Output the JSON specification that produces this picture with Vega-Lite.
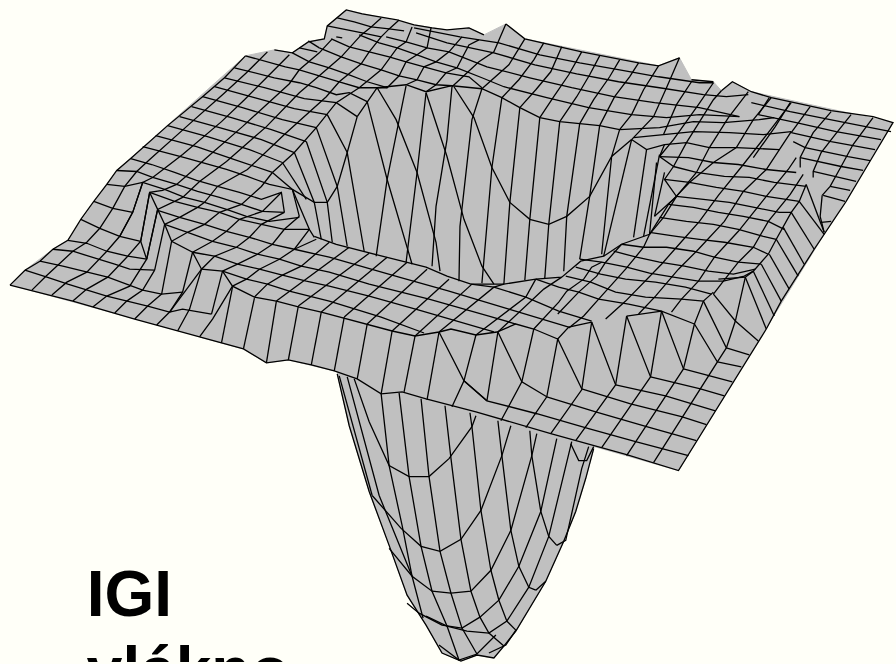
{"$schema":"https://vega.github.io/schema/vega-lite/v6.json","width":896,"height":664,"padding":0,"autosize":{"type":"fit","contains":"padding"},"background":"#FFFFF8","config":{"view":{"stroke":null}},
"datasets":{"fills":[
{"l":1,"x":338,"y":375},{"l":1,"x":350,"y":427},{"l":1,"x":370,"y":493},{"l":1,"x":390,"y":547},{"l":1,"x":408,"y":597},{"l":1,"x":427,"y":627},{"l":1,"x":443,"y":655},{"l":1,"x":462,"y":663},{"l":1,"x":478,"y":657},{"l":1,"x":495,"y":660},{"l":1,"x":505,"y":648},{"l":1,"x":517,"y":633},{"l":1,"x":547,"y":583},{"l":1,"x":565,"y":543},{"l":1,"x":577,"y":513},{"l":1,"x":587,"y":480},{"l":1,"x":595,"y":450},{"l":1,"x":595,"y":420},{"l":1,"x":338,"y":350},
{"l":2,"x":10,"y":286},{"l":2,"x":25,"y":271},{"l":2,"x":53,"y":250},{"l":2,"x":68,"y":241},{"l":2,"x":117,"y":171},{"l":2,"x":246,"y":56},{"l":2,"x":275,"y":50},{"l":2,"x":293,"y":53},{"l":2,"x":309,"y":42},{"l":2,"x":325,"y":39},{"l":2,"x":328,"y":26},{"l":2,"x":347,"y":10},{"l":2,"x":415,"y":25},{"l":2,"x":448,"y":30},{"l":2,"x":470,"y":28},{"l":2,"x":485,"y":35},{"l":2,"x":507,"y":24},{"l":2,"x":526,"y":39},{"l":2,"x":660,"y":66},{"l":2,"x":681,"y":58},{"l":2,"x":693,"y":80},{"l":2,"x":715,"y":82},{"l":2,"x":723,"y":91},{"l":2,"x":734,"y":82},{"l":2,"x":753,"y":92},{"l":2,"x":895,"y":123},{"l":2,"x":680,"y":472},{"l":2,"x":427,"y":400},{"l":2,"x":403,"y":393},{"l":2,"x":382,"y":395},{"l":2,"x":358,"y":380},{"l":2,"x":335,"y":372},{"l":2,"x":289,"y":361},{"l":2,"x":267,"y":364},{"l":2,"x":244,"y":350},{"l":2,"x":200,"y":338}],
"lines":[
{"l":1,"x":338,"y":375},{"l":1,"x":350,"y":427},{"l":1,"x":370,"y":493},{"l":1,"x":390,"y":547},{"l":1,"x":408,"y":597},{"l":1,"x":427,"y":627},{"l":1,"x":443,"y":655},{"l":1,"x":462,"y":663},{"l":1,"x":478,"y":657},{"l":1,"x":495,"y":660},{"l":1,"x":505,"y":648},{"l":1,"x":517,"y":633},{"l":1,"x":547,"y":583},{"l":1,"x":565,"y":543},{"l":1,"x":577,"y":513},{"l":1,"x":587,"y":480},{"l":1,"x":595,"y":450},
{"l":2,"x":382,"y":395},{"l":2,"x":390,"y":467},{"l":2,"x":403,"y":527},{"l":2,"x":413,"y":578},{"l":2,"x":424,"y":620},
{"l":3,"x":400,"y":394},{"l":3,"x":410,"y":478},{"l":3,"x":422,"y":548},{"l":3,"x":433,"y":593},{"l":3,"x":448,"y":628},{"l":3,"x":460,"y":662},
{"l":4,"x":422,"y":400},{"l":4,"x":430,"y":478},{"l":4,"x":441,"y":553},{"l":4,"x":452,"y":595},{"l":4,"x":463,"y":630},{"l":4,"x":478,"y":656},
{"l":5,"x":446,"y":407},{"l":5,"x":452,"y":460},{"l":5,"x":462,"y":541},{"l":5,"x":472,"y":593},{"l":5,"x":481,"y":619},{"l":5,"x":490,"y":635},{"l":5,"x":505,"y":648},
{"l":6,"x":471,"y":414},{"l":6,"x":473,"y":428},{"l":6,"x":482,"y":512},{"l":6,"x":492,"y":572},{"l":6,"x":500,"y":602},{"l":6,"x":508,"y":623},{"l":6,"x":517,"y":632},
{"l":7,"x":499,"y":422},{"l":7,"x":503,"y":457},{"l":7,"x":512,"y":532},{"l":7,"x":520,"y":568},{"l":7,"x":530,"y":589},{"l":7,"x":537,"y":592},
{"l":8,"x":531,"y":432},{"l":8,"x":533,"y":457},{"l":8,"x":542,"y":513},{"l":8,"x":550,"y":538},{"l":8,"x":558,"y":547},
{"l":9,"x":340,"y":377},{"l":9,"x":373,"y":497},
{"l":10,"x":348,"y":378},{"l":10,"x":380,"y":497},{"l":10,"x":413,"y":578},
{"l":11,"x":355,"y":380},{"l":11,"x":370,"y":423},{"l":11,"x":390,"y":467},{"l":11,"x":410,"y":478},{"l":11,"x":430,"y":478},{"l":11,"x":450,"y":460},{"l":11,"x":473,"y":428},{"l":11,"x":477,"y":417},
{"l":12,"x":373,"y":497},{"l":12,"x":402,"y":530},{"l":12,"x":422,"y":548},{"l":12,"x":441,"y":553},{"l":12,"x":462,"y":541},{"l":12,"x":482,"y":512},{"l":12,"x":503,"y":457},{"l":12,"x":512,"y":427},
{"l":13,"x":390,"y":550},{"l":13,"x":413,"y":578},{"l":13,"x":433,"y":593},{"l":13,"x":452,"y":595},{"l":13,"x":472,"y":593},{"l":13,"x":492,"y":572},{"l":13,"x":512,"y":532},{"l":13,"x":533,"y":457},{"l":13,"x":538,"y":435},
{"l":14,"x":408,"y":605},{"l":14,"x":420,"y":615},{"l":14,"x":443,"y":627},{"l":14,"x":463,"y":630},{"l":14,"x":481,"y":619},{"l":14,"x":500,"y":602},{"l":14,"x":520,"y":568},{"l":14,"x":542,"y":513},{"l":14,"x":558,"y":440},
{"l":15,"x":427,"y":618},{"l":15,"x":448,"y":628},{"l":15,"x":468,"y":633},{"l":15,"x":490,"y":635},{"l":15,"x":508,"y":623},{"l":15,"x":530,"y":589},{"l":15,"x":550,"y":538},{"l":15,"x":573,"y":443},
{"l":16,"x":440,"y":647},{"l":16,"x":460,"y":662},{"l":16,"x":478,"y":656},{"l":16,"x":497,"y":637},
{"l":17,"x":490,"y":655},{"l":17,"x":507,"y":647},{"l":17,"x":517,"y":632},
{"l":18,"x":572,"y":445},{"l":18,"x":580,"y":462},{"l":18,"x":588,"y":462},{"l":18,"x":595,"y":448},
{"l":19,"x":558,"y":547},{"l":19,"x":567,"y":542},{"l":19,"x":583,"y":470},{"l":19,"x":590,"y":448},
{"l":20,"x":537,"y":592},{"l":20,"x":547,"y":583},
{"l":21,"x":10,"y":286},{"l":21,"x":25,"y":271},{"l":21,"x":40,"y":262},{"l":21,"x":53,"y":250},{"l":21,"x":68,"y":241},{"l":21,"x":81,"y":220},{"l":21,"x":94,"y":202},{"l":21,"x":107,"y":185},{"l":21,"x":117,"y":171},{"l":21,"x":131,"y":159},{"l":21,"x":168,"y":126},{"l":21,"x":203,"y":97},{"l":21,"x":225,"y":78},{"l":21,"x":246,"y":56},
{"l":22,"x":275,"y":50},{"l":22,"x":293,"y":53},{"l":22,"x":309,"y":42},{"l":22,"x":325,"y":39},{"l":22,"x":328,"y":26},{"l":22,"x":347,"y":10},{"l":22,"x":363,"y":14},{"l":22,"x":398,"y":20},{"l":22,"x":415,"y":25},{"l":22,"x":433,"y":28},{"l":22,"x":448,"y":30},{"l":22,"x":470,"y":28},{"l":22,"x":485,"y":35},
{"l":23,"x":507,"y":24},{"l":23,"x":526,"y":39},{"l":23,"x":583,"y":52},{"l":23,"x":640,"y":63},{"l":23,"x":660,"y":66},{"l":23,"x":681,"y":58},
{"l":24,"x":693,"y":80},{"l":24,"x":715,"y":82},
{"l":25,"x":723,"y":91},{"l":25,"x":734,"y":82},{"l":25,"x":753,"y":92},{"l":25,"x":773,"y":98},{"l":25,"x":833,"y":111},{"l":25,"x":875,"y":117},{"l":25,"x":895,"y":123},{"l":25,"x":873,"y":160},{"l":25,"x":848,"y":202},{"l":25,"x":816,"y":250},{"l":25,"x":783,"y":302},{"l":25,"x":768,"y":330},{"l":25,"x":680,"y":472},{"l":25,"x":628,"y":456},{"l":25,"x":552,"y":435},{"l":25,"x":477,"y":413},{"l":25,"x":427,"y":400},{"l":25,"x":403,"y":393},{"l":25,"x":382,"y":395},{"l":25,"x":358,"y":380},{"l":25,"x":335,"y":372},{"l":25,"x":312,"y":366},{"l":25,"x":289,"y":361},{"l":25,"x":267,"y":364},{"l":25,"x":244,"y":350},{"l":25,"x":200,"y":338},{"l":25,"x":135,"y":320},{"l":25,"x":73,"y":302},{"l":25,"x":10,"y":286},
{"l":30,"x":25,"y":271},{"l":30,"x":47,"y":278},{"l":30,"x":68,"y":285},{"l":30,"x":107,"y":297},{"l":30,"x":148,"y":307},{"l":30,"x":170,"y":313},{"l":30,"x":183,"y":310},{"l":30,"x":212,"y":315},
{"l":31,"x":40,"y":262},{"l":31,"x":63,"y":267},{"l":31,"x":108,"y":278},{"l":31,"x":143,"y":291},{"l":31,"x":162,"y":295},{"l":31,"x":183,"y":293},
{"l":32,"x":53,"y":250},{"l":32,"x":73,"y":252},{"l":32,"x":115,"y":265},{"l":32,"x":130,"y":270},{"l":32,"x":155,"y":271},
{"l":33,"x":68,"y":241},{"l":33,"x":87,"y":244},{"l":33,"x":107,"y":252},{"l":33,"x":128,"y":257},{"l":33,"x":147,"y":260},
{"l":34,"x":81,"y":220},{"l":34,"x":100,"y":229},{"l":34,"x":120,"y":237},{"l":34,"x":141,"y":242},
{"l":35,"x":94,"y":202},{"l":35,"x":113,"y":209},{"l":35,"x":133,"y":213},
{"l":36,"x":107,"y":185},{"l":36,"x":125,"y":187},{"l":36,"x":143,"y":183},{"l":36,"x":165,"y":190},{"l":36,"x":185,"y":198},{"l":36,"x":205,"y":203},{"l":36,"x":227,"y":210},{"l":36,"x":247,"y":217},{"l":36,"x":270,"y":222},{"l":36,"x":300,"y":218},
{"l":37,"x":117,"y":171},{"l":37,"x":137,"y":172},{"l":37,"x":153,"y":178},{"l":37,"x":177,"y":185},{"l":37,"x":198,"y":192},{"l":37,"x":220,"y":198},{"l":37,"x":242,"y":205},{"l":37,"x":263,"y":212},{"l":37,"x":285,"y":213},
{"l":38,"x":150,"y":193},{"l":38,"x":175,"y":202},{"l":38,"x":198,"y":208},{"l":38,"x":220,"y":213},{"l":38,"x":240,"y":220},{"l":38,"x":262,"y":225},{"l":38,"x":285,"y":230},{"l":38,"x":310,"y":230},{"l":38,"x":315,"y":238},
{"l":39,"x":143,"y":183},{"l":39,"x":133,"y":213},{"l":39,"x":120,"y":237},
{"l":40,"x":150,"y":193},{"l":40,"x":141,"y":242},{"l":40,"x":147,"y":260},
{"l":41,"x":158,"y":210},{"l":41,"x":147,"y":260},
{"l":42,"x":165,"y":225},{"l":42,"x":155,"y":271},
{"l":43,"x":172,"y":242},{"l":43,"x":162,"y":295},
{"l":44,"x":193,"y":253},{"l":44,"x":183,"y":293},
{"l":45,"x":202,"y":270},{"l":45,"x":170,"y":313},
{"l":46,"x":223,"y":272},{"l":46,"x":212,"y":315},
{"l":47,"x":233,"y":287},{"l":47,"x":213,"y":320},{"l":47,"x":200,"y":338},
{"l":48,"x":150,"y":193},{"l":48,"x":158,"y":210},{"l":48,"x":165,"y":225},{"l":48,"x":172,"y":242},{"l":48,"x":193,"y":253},{"l":48,"x":202,"y":270},{"l":48,"x":223,"y":272},{"l":48,"x":233,"y":287},{"l":48,"x":255,"y":298},{"l":48,"x":277,"y":302},{"l":48,"x":300,"y":308},{"l":48,"x":322,"y":313},{"l":48,"x":393,"y":332},{"l":48,"x":416,"y":337},{"l":48,"x":440,"y":333},{"l":48,"x":452,"y":330},{"l":48,"x":477,"y":336},{"l":48,"x":498,"y":333},{"l":48,"x":517,"y":325},{"l":48,"x":535,"y":330},{"l":48,"x":559,"y":340},{"l":48,"x":570,"y":328},{"l":48,"x":593,"y":323},
{"l":49,"x":628,"y":317},{"l":49,"x":663,"y":312},{"l":49,"x":696,"y":325},{"l":49,"x":705,"y":302},{"l":49,"x":715,"y":293},
{"l":50,"x":720,"y":280},{"l":50,"x":747,"y":278},{"l":50,"x":755,"y":272},{"l":50,"x":770,"y":255},{"l":50,"x":778,"y":240},{"l":50,"x":793,"y":213},{"l":50,"x":801,"y":202},{"l":50,"x":808,"y":185},
{"l":51,"x":32,"y":291},{"l":51,"x":46,"y":277},{"l":51,"x":59,"y":265},{"l":51,"x":73,"y":252},{"l":51,"x":87,"y":243},{"l":51,"x":100,"y":229},{"l":51,"x":113,"y":209},{"l":51,"x":125,"y":187},{"l":51,"x":137,"y":172},{"l":51,"x":150,"y":160},{"l":51,"x":188,"y":126},{"l":51,"x":223,"y":95},{"l":51,"x":247,"y":73},{"l":51,"x":268,"y":52},
{"l":52,"x":52,"y":296},{"l":52,"x":67,"y":283},{"l":52,"x":87,"y":273},{"l":52,"x":107,"y":252},{"l":52,"x":120,"y":237},{"l":52,"x":133,"y":213},{"l":52,"x":143,"y":183},{"l":52,"x":153,"y":178},{"l":52,"x":170,"y":165},{"l":52,"x":183,"y":155},{"l":52,"x":222,"y":122},{"l":52,"x":245,"y":100},{"l":52,"x":267,"y":78},{"l":52,"x":290,"y":55},
{"l":53,"x":73,"y":302},{"l":53,"x":87,"y":290},{"l":53,"x":108,"y":278},{"l":53,"x":128,"y":257},{"l":53,"x":141,"y":242},{"l":53,"x":150,"y":193},{"l":53,"x":163,"y":191},{"l":53,"x":177,"y":185},{"l":53,"x":192,"y":172},{"l":53,"x":205,"y":160},{"l":53,"x":243,"y":127},{"l":53,"x":267,"y":105},{"l":53,"x":290,"y":84},{"l":53,"x":300,"y":70},{"l":53,"x":320,"y":53},{"l":53,"x":333,"y":39},
{"l":54,"x":93,"y":308},{"l":54,"x":107,"y":297},{"l":54,"x":130,"y":287},{"l":54,"x":147,"y":260},{"l":54,"x":158,"y":210},{"l":54,"x":175,"y":202},{"l":54,"x":183,"y":198},{"l":54,"x":200,"y":182},{"l":54,"x":227,"y":162},{"l":54,"x":267,"y":127},{"l":54,"x":300,"y":93},{"l":54,"x":320,"y":76},{"l":54,"x":342,"y":57},{"l":54,"x":362,"y":35},{"l":54,"x":372,"y":27},{"l":54,"x":382,"y":18},
{"l":55,"x":115,"y":314},{"l":55,"x":127,"y":302},{"l":55,"x":143,"y":291},{"l":55,"x":155,"y":271},
{"l":56,"x":165,"y":225},{"l":56,"x":180,"y":218},{"l":56,"x":198,"y":208},{"l":56,"x":205,"y":203},{"l":56,"x":218,"y":187},{"l":56,"x":248,"y":170},{"l":56,"x":285,"y":135},{"l":56,"x":327,"y":97},{"l":56,"x":340,"y":82},{"l":56,"x":362,"y":64},{"l":56,"x":370,"y":52},{"l":56,"x":382,"y":37},{"l":56,"x":390,"y":29},{"l":56,"x":400,"y":20},
{"l":57,"x":135,"y":320},{"l":57,"x":148,"y":307},{"l":57,"x":162,"y":295},
{"l":58,"x":172,"y":242},{"l":58,"x":188,"y":233},{"l":58,"x":205,"y":225},{"l":58,"x":220,"y":213},{"l":58,"x":242,"y":205},{"l":58,"x":262,"y":187},{"l":58,"x":273,"y":173},
{"l":59,"x":157,"y":326},{"l":59,"x":170,"y":313},{"l":59,"x":183,"y":293},
{"l":60,"x":193,"y":253},{"l":60,"x":213,"y":242},{"l":60,"x":227,"y":232},{"l":60,"x":240,"y":220},{"l":60,"x":263,"y":212},{"l":60,"x":282,"y":193},
{"l":61,"x":178,"y":332},{"l":61,"x":190,"y":310},{"l":61,"x":202,"y":270},{"l":61,"x":215,"y":257},{"l":61,"x":237,"y":248},{"l":61,"x":250,"y":238},{"l":61,"x":262,"y":225},{"l":61,"x":285,"y":213},
{"l":62,"x":223,"y":272},{"l":62,"x":238,"y":265},{"l":62,"x":258,"y":255},{"l":62,"x":273,"y":245},{"l":62,"x":285,"y":230},{"l":62,"x":300,"y":217},
{"l":63,"x":233,"y":287},{"l":63,"x":247,"y":280},{"l":63,"x":260,"y":270},{"l":63,"x":280,"y":260},{"l":63,"x":295,"y":250},{"l":63,"x":310,"y":230},
{"l":64,"x":295,"y":250},{"l":64,"x":317,"y":240},
{"l":65,"x":309,"y":41},{"l":65,"x":320,"y":48},
{"l":66,"x":300,"y":48},{"l":66,"x":318,"y":52},
{"l":67,"x":337,"y":37},{"l":67,"x":343,"y":38},
{"l":70,"x":131,"y":159},{"l":70,"x":152,"y":165},{"l":70,"x":175,"y":173},{"l":70,"x":197,"y":181},{"l":70,"x":218,"y":187},{"l":70,"x":240,"y":193},{"l":70,"x":262,"y":200},{"l":70,"x":282,"y":193},{"l":70,"x":285,"y":213},
{"l":71,"x":143,"y":147},{"l":71,"x":185,"y":158},{"l":71,"x":227,"y":170},{"l":71,"x":248,"y":177},{"l":71,"x":270,"y":185},{"l":71,"x":293,"y":190},{"l":71,"x":300,"y":217},
{"l":72,"x":156,"y":136},{"l":72,"x":197,"y":147},{"l":72,"x":238,"y":161},{"l":72,"x":273,"y":173},
{"l":73,"x":168,"y":126},{"l":73,"x":208,"y":137},{"l":73,"x":250,"y":150},{"l":73,"x":283,"y":163},
{"l":74,"x":180,"y":117},{"l":74,"x":220,"y":128},{"l":74,"x":262,"y":140},{"l":74,"x":295,"y":153},
{"l":75,"x":192,"y":107},{"l":75,"x":232,"y":118},{"l":75,"x":272,"y":130},{"l":75,"x":307,"y":142},
{"l":76,"x":203,"y":97},{"l":76,"x":243,"y":108},{"l":76,"x":283,"y":120},{"l":76,"x":317,"y":128},
{"l":77,"x":215,"y":87},{"l":77,"x":255,"y":98},{"l":77,"x":295,"y":109},{"l":77,"x":328,"y":115},
{"l":78,"x":225,"y":78},{"l":78,"x":265,"y":88},{"l":78,"x":305,"y":99},{"l":78,"x":337,"y":103},{"l":78,"x":358,"y":117},
{"l":79,"x":235,"y":68},{"l":79,"x":275,"y":78},{"l":79,"x":300,"y":83},{"l":79,"x":317,"y":88},{"l":79,"x":337,"y":95},{"l":79,"x":350,"y":93},{"l":79,"x":368,"y":102},
{"l":80,"x":246,"y":56},{"l":80,"x":286,"y":67},{"l":80,"x":300,"y":70},{"l":80,"x":320,"y":76},{"l":80,"x":340,"y":82},{"l":80,"x":360,"y":88},{"l":80,"x":378,"y":88},{"l":80,"x":407,"y":85},{"l":80,"x":427,"y":92},{"l":80,"x":453,"y":86},{"l":80,"x":483,"y":89},{"l":80,"x":503,"y":98},{"l":80,"x":521,"y":108},{"l":80,"x":541,"y":118},{"l":80,"x":561,"y":122},{"l":80,"x":601,"y":126},{"l":80,"x":621,"y":130},{"l":80,"x":661,"y":128},{"l":80,"x":695,"y":122},{"l":80,"x":725,"y":123},{"l":80,"x":761,"y":120},{"l":80,"x":776,"y":118},
{"l":81,"x":293,"y":53},{"l":81,"x":310,"y":62},{"l":81,"x":330,"y":68},{"l":81,"x":350,"y":75},{"l":81,"x":368,"y":82},{"l":81,"x":388,"y":88},
{"l":82,"x":320,"y":48},{"l":82,"x":342,"y":57},{"l":82,"x":362,"y":64},{"l":82,"x":382,"y":70},{"l":82,"x":400,"y":76},{"l":82,"x":418,"y":80},{"l":82,"x":437,"y":85},{"l":82,"x":453,"y":86},
{"l":83,"x":360,"y":35},{"l":83,"x":380,"y":43},{"l":83,"x":398,"y":48},{"l":83,"x":418,"y":55},{"l":83,"x":437,"y":62},{"l":83,"x":458,"y":68},{"l":83,"x":483,"y":78},{"l":83,"x":505,"y":87},{"l":83,"x":548,"y":98},{"l":83,"x":590,"y":108},{"l":83,"x":633,"y":115},{"l":83,"x":668,"y":118},{"l":83,"x":701,"y":115},{"l":83,"x":741,"y":117},
{"l":84,"x":387,"y":37},{"l":84,"x":407,"y":42},{"l":84,"x":428,"y":48},{"l":84,"x":450,"y":52},{"l":84,"x":488,"y":67},{"l":84,"x":531,"y":78},{"l":84,"x":573,"y":88},{"l":84,"x":615,"y":97},{"l":84,"x":656,"y":103},{"l":84,"x":701,"y":108},{"l":84,"x":741,"y":117},
{"l":85,"x":328,"y":26},{"l":85,"x":343,"y":29},{"l":85,"x":363,"y":33},{"l":85,"x":382,"y":37},
{"l":87,"x":417,"y":33},{"l":87,"x":448,"y":43},{"l":87,"x":495,"y":53},{"l":87,"x":536,"y":65},{"l":87,"x":578,"y":74},{"l":87,"x":620,"y":82},{"l":87,"x":661,"y":88},{"l":87,"x":705,"y":95},{"l":87,"x":728,"y":97},{"l":87,"x":750,"y":95},
{"l":86,"x":338,"y":18},{"l":86,"x":355,"y":22},{"l":86,"x":372,"y":27},{"l":86,"x":390,"y":29},{"l":86,"x":405,"y":31},
{"l":88,"x":415,"y":28},{"l":88,"x":461,"y":37},{"l":88,"x":500,"y":43},{"l":88,"x":541,"y":55},{"l":88,"x":581,"y":63},{"l":88,"x":621,"y":70},{"l":88,"x":660,"y":77},{"l":88,"x":701,"y":83},{"l":88,"x":715,"y":83},
{"l":89,"x":332,"y":39},{"l":89,"x":350,"y":47},{"l":89,"x":370,"y":52},{"l":89,"x":390,"y":57},{"l":89,"x":407,"y":62},{"l":89,"x":425,"y":67},{"l":89,"x":447,"y":73},{"l":89,"x":470,"y":77},{"l":89,"x":483,"y":88},
{"l":90,"x":273,"y":173},{"l":90,"x":295,"y":153},{"l":90,"x":317,"y":128},{"l":90,"x":337,"y":103},{"l":90,"x":360,"y":88},{"l":90,"x":382,"y":70},{"l":90,"x":398,"y":48},{"l":90,"x":407,"y":42},{"l":90,"x":413,"y":27},
{"l":91,"x":358,"y":117},{"l":91,"x":378,"y":88},{"l":91,"x":388,"y":88},{"l":91,"x":400,"y":76},{"l":91,"x":407,"y":62},{"l":91,"x":418,"y":55},{"l":91,"x":428,"y":48},{"l":91,"x":432,"y":28},
{"l":92,"x":407,"y":85},{"l":92,"x":418,"y":80},{"l":92,"x":425,"y":67},{"l":92,"x":437,"y":62},{"l":92,"x":450,"y":52},{"l":92,"x":463,"y":37},
{"l":93,"x":427,"y":92},{"l":93,"x":437,"y":85},{"l":93,"x":447,"y":73},{"l":93,"x":458,"y":68},{"l":93,"x":470,"y":45},{"l":93,"x":480,"y":40},
{"l":94,"x":453,"y":87},{"l":94,"x":480,"y":62},{"l":94,"x":495,"y":52},{"l":94,"x":507,"y":24},
{"l":95,"x":483,"y":89},{"l":95,"x":510,"y":65},{"l":95,"x":526,"y":39},
{"l":96,"x":503,"y":98},{"l":96,"x":520,"y":80},{"l":96,"x":535,"y":60},{"l":96,"x":545,"y":43},
{"l":97,"x":521,"y":108},{"l":97,"x":537,"y":90},{"l":97,"x":552,"y":72},{"l":97,"x":563,"y":47},
{"l":98,"x":541,"y":118},{"l":98,"x":555,"y":97},{"l":98,"x":570,"y":75},{"l":98,"x":583,"y":52},
{"l":99,"x":561,"y":122},{"l":99,"x":578,"y":97},{"l":99,"x":591,"y":75},{"l":99,"x":601,"y":56},
{"l":100,"x":581,"y":124},{"l":100,"x":595,"y":100},{"l":100,"x":611,"y":77},{"l":100,"x":621,"y":60},
{"l":101,"x":601,"y":126},{"l":101,"x":616,"y":97},{"l":101,"x":631,"y":77},{"l":101,"x":640,"y":63},
{"l":102,"x":621,"y":130},{"l":102,"x":633,"y":115},{"l":102,"x":645,"y":90},{"l":102,"x":660,"y":66},
{"l":103,"x":633,"y":140},{"l":103,"x":655,"y":117},{"l":103,"x":668,"y":88},{"l":103,"x":681,"y":58},
{"l":104,"x":665,"y":135},{"l":104,"x":678,"y":105},{"l":104,"x":693,"y":82},
{"l":105,"x":661,"y":157},{"l":105,"x":675,"y":140},{"l":105,"x":700,"y":105},{"l":105,"x":715,"y":83},
{"l":106,"x":675,"y":167},{"l":106,"x":688,"y":143},{"l":106,"x":715,"y":100},{"l":106,"x":723,"y":91},
{"l":107,"x":678,"y":197},{"l":107,"x":698,"y":173},{"l":107,"x":711,"y":148},{"l":107,"x":730,"y":118},{"l":107,"x":750,"y":92},
{"l":108,"x":651,"y":235},{"l":108,"x":670,"y":205},{"l":108,"x":691,"y":183},{"l":108,"x":715,"y":163},{"l":108,"x":738,"y":148},{"l":108,"x":755,"y":120},{"l":108,"x":773,"y":98},
{"l":110,"x":358,"y":117},{"l":110,"x":348,"y":153},{"l":110,"x":338,"y":187},{"l":110,"x":328,"y":203},{"l":110,"x":315,"y":203},{"l":110,"x":293,"y":190},
{"l":111,"x":328,"y":115},{"l":111,"x":348,"y":153},{"l":111,"x":365,"y":252},
{"l":112,"x":317,"y":128},{"l":112,"x":338,"y":187},{"l":112,"x":348,"y":247},
{"l":113,"x":307,"y":142},{"l":113,"x":328,"y":203},{"l":113,"x":333,"y":243},
{"l":114,"x":295,"y":153},{"l":114,"x":315,"y":203},{"l":114,"x":322,"y":240},
{"l":115,"x":283,"y":163},{"l":115,"x":307,"y":200},
{"l":116,"x":273,"y":173},{"l":116,"x":293,"y":190},{"l":116,"x":310,"y":230},
{"l":118,"x":368,"y":102},{"l":118,"x":388,"y":180},{"l":118,"x":413,"y":265},
{"l":119,"x":378,"y":88},{"l":119,"x":397,"y":120},{"l":119,"x":418,"y":173},{"l":119,"x":437,"y":243},{"l":119,"x":441,"y":272},
{"l":120,"x":407,"y":86},{"l":120,"x":388,"y":180},{"l":120,"x":377,"y":257},
{"l":121,"x":427,"y":93},{"l":121,"x":418,"y":173},{"l":121,"x":407,"y":263},
{"l":122,"x":453,"y":87},{"l":122,"x":448,"y":140},{"l":122,"x":437,"y":207},{"l":122,"x":433,"y":267},
{"l":123,"x":427,"y":93},{"l":123,"x":448,"y":157},{"l":123,"x":465,"y":220},{"l":123,"x":483,"y":267},{"l":123,"x":495,"y":285},
{"l":124,"x":455,"y":87},{"l":124,"x":475,"y":118},{"l":124,"x":493,"y":168},{"l":124,"x":511,"y":203},{"l":124,"x":531,"y":220},{"l":124,"x":550,"y":225},{"l":124,"x":568,"y":217},{"l":124,"x":591,"y":197},{"l":124,"x":613,"y":157},{"l":124,"x":633,"y":140},
{"l":125,"x":483,"y":89},{"l":125,"x":473,"y":120},{"l":125,"x":461,"y":227},{"l":125,"x":460,"y":282},
{"l":126,"x":503,"y":98},{"l":126,"x":493,"y":168},{"l":126,"x":483,"y":284},
{"l":127,"x":521,"y":108},{"l":127,"x":511,"y":203},{"l":127,"x":505,"y":285},
{"l":128,"x":541,"y":118},{"l":128,"x":531,"y":220},{"l":128,"x":526,"y":281},
{"l":129,"x":561,"y":122},{"l":129,"x":550,"y":225},{"l":129,"x":546,"y":279},
{"l":130,"x":581,"y":124},{"l":130,"x":568,"y":217},{"l":130,"x":565,"y":272},
{"l":131,"x":601,"y":126},{"l":131,"x":591,"y":197},{"l":131,"x":581,"y":260},
{"l":132,"x":621,"y":130},{"l":132,"x":613,"y":157},{"l":132,"x":603,"y":255},
{"l":133,"x":633,"y":140},{"l":133,"x":605,"y":257},
{"l":134,"x":648,"y":150},{"l":134,"x":635,"y":238},
{"l":135,"x":661,"y":155},{"l":135,"x":645,"y":237},
{"l":136,"x":658,"y":163},{"l":136,"x":651,"y":235},
{"l":137,"x":666,"y":173},{"l":137,"x":656,"y":217},
{"l":138,"x":678,"y":197},{"l":138,"x":656,"y":217},
{"l":139,"x":633,"y":140},{"l":139,"x":648,"y":150},{"l":139,"x":666,"y":145},{"l":139,"x":688,"y":143},{"l":139,"x":711,"y":148},{"l":139,"x":738,"y":148},{"l":139,"x":781,"y":150},
{"l":140,"x":635,"y":138},{"l":140,"x":665,"y":135},{"l":140,"x":695,"y":132},{"l":140,"x":731,"y":133},{"l":140,"x":765,"y":135},{"l":140,"x":793,"y":132},
{"l":141,"x":661,"y":157},{"l":141,"x":690,"y":158},{"l":141,"x":715,"y":163},{"l":141,"x":740,"y":165},{"l":141,"x":768,"y":170},{"l":141,"x":798,"y":173},
{"l":142,"x":675,"y":167},{"l":142,"x":698,"y":173},{"l":142,"x":726,"y":177},{"l":142,"x":751,"y":178},{"l":142,"x":776,"y":183},{"l":142,"x":808,"y":187},
{"l":143,"x":666,"y":180},{"l":143,"x":691,"y":183},{"l":143,"x":718,"y":188},{"l":143,"x":745,"y":192},{"l":143,"x":768,"y":197},{"l":143,"x":801,"y":202},
{"l":144,"x":678,"y":197},{"l":144,"x":705,"y":200},{"l":144,"x":731,"y":203},{"l":144,"x":756,"y":208},{"l":144,"x":781,"y":213},{"l":144,"x":793,"y":213},
{"l":145,"x":670,"y":205},{"l":145,"x":695,"y":208},{"l":145,"x":720,"y":213},{"l":145,"x":745,"y":217},{"l":145,"x":770,"y":222},{"l":145,"x":786,"y":230},
{"l":146,"x":661,"y":218},{"l":146,"x":688,"y":222},{"l":146,"x":715,"y":225},{"l":146,"x":740,"y":230},{"l":146,"x":765,"y":237},{"l":146,"x":778,"y":240},
{"l":147,"x":651,"y":233},{"l":147,"x":678,"y":237},{"l":147,"x":701,"y":240},{"l":147,"x":726,"y":243},{"l":147,"x":755,"y":248},{"l":147,"x":770,"y":255},
{"l":148,"x":623,"y":245},{"l":148,"x":645,"y":248},{"l":148,"x":668,"y":248},{"l":148,"x":695,"y":252},{"l":148,"x":716,"y":258},{"l":148,"x":740,"y":263},{"l":148,"x":763,"y":265},
{"l":149,"x":615,"y":252},{"l":149,"x":638,"y":258},{"l":149,"x":661,"y":263},{"l":149,"x":686,"y":267},{"l":149,"x":710,"y":272},{"l":149,"x":735,"y":275},{"l":149,"x":757,"y":270},
{"l":150,"x":581,"y":260},{"l":150,"x":603,"y":263},{"l":150,"x":628,"y":268},{"l":150,"x":651,"y":274},{"l":150,"x":675,"y":278},{"l":150,"x":700,"y":282},{"l":150,"x":725,"y":282},{"l":150,"x":746,"y":277},{"l":150,"x":755,"y":272},
{"l":151,"x":577,"y":268},{"l":151,"x":602,"y":275},{"l":151,"x":627,"y":280},{"l":151,"x":657,"y":283},{"l":151,"x":687,"y":288},{"l":151,"x":713,"y":295},
{"l":152,"x":567,"y":277},{"l":152,"x":592,"y":283},{"l":152,"x":617,"y":293},{"l":152,"x":647,"y":298},{"l":152,"x":683,"y":300},{"l":152,"x":705,"y":302},
{"l":153,"x":537,"y":280},{"l":153,"x":560,"y":288},{"l":153,"x":580,"y":293},{"l":153,"x":600,"y":300},{"l":153,"x":630,"y":305},{"l":153,"x":663,"y":312},
{"l":154,"x":315,"y":237},{"l":154,"x":337,"y":245},{"l":154,"x":383,"y":257},{"l":154,"x":427,"y":268},{"l":154,"x":448,"y":277},{"l":154,"x":472,"y":285},{"l":154,"x":495,"y":288},{"l":154,"x":527,"y":298},{"l":154,"x":560,"y":312},{"l":154,"x":593,"y":322},
{"l":155,"x":472,"y":285},{"l":155,"x":505,"y":285},{"l":155,"x":537,"y":280},{"l":155,"x":563,"y":278},{"l":155,"x":582,"y":262},{"l":155,"x":605,"y":257},{"l":155,"x":623,"y":245},{"l":155,"x":651,"y":235},{"l":155,"x":665,"y":218},{"l":155,"x":678,"y":197},{"l":155,"x":666,"y":180},{"l":155,"x":675,"y":167},{"l":155,"x":661,"y":157},{"l":155,"x":666,"y":145},
{"l":156,"x":158,"y":211},{"l":156,"x":180,"y":218},{"l":156,"x":205,"y":225},{"l":156,"x":227,"y":232},{"l":156,"x":250,"y":238},{"l":156,"x":273,"y":245},{"l":156,"x":295,"y":250},{"l":156,"x":330,"y":258},{"l":156,"x":400,"y":278},{"l":156,"x":450,"y":292},{"l":156,"x":510,"y":310},{"l":156,"x":570,"y":328},
{"l":157,"x":165,"y":225},{"l":157,"x":188,"y":233},{"l":157,"x":213,"y":242},{"l":157,"x":237,"y":248},{"l":157,"x":258,"y":255},{"l":157,"x":280,"y":260},{"l":157,"x":302,"y":267},{"l":157,"x":330,"y":273},{"l":157,"x":370,"y":285},{"l":157,"x":430,"y":300},{"l":157,"x":490,"y":317},{"l":157,"x":517,"y":325},
{"l":158,"x":193,"y":253},{"l":158,"x":215,"y":257},{"l":158,"x":238,"y":265},{"l":158,"x":260,"y":270},{"l":158,"x":283,"y":276},{"l":158,"x":307,"y":282},{"l":158,"x":330,"y":287},{"l":158,"x":370,"y":297},{"l":158,"x":420,"y":311},{"l":158,"x":495,"y":333},
{"l":159,"x":223,"y":272},{"l":159,"x":247,"y":280},{"l":159,"x":268,"y":285},{"l":159,"x":290,"y":292},{"l":159,"x":330,"y":302},{"l":159,"x":382,"y":318},{"l":159,"x":425,"y":334},
{"l":160,"x":255,"y":298},{"l":160,"x":268,"y":285},{"l":160,"x":283,"y":276},{"l":160,"x":302,"y":267},{"l":160,"x":330,"y":243},
{"l":161,"x":277,"y":302},{"l":161,"x":350,"y":248},
{"l":162,"x":299,"y":307},{"l":162,"x":370,"y":254},
{"l":163,"x":322,"y":313},{"l":163,"x":388,"y":258},
{"l":164,"x":345,"y":318},{"l":164,"x":408,"y":263},
{"l":165,"x":368,"y":325},{"l":165,"x":428,"y":270},
{"l":166,"x":393,"y":332},{"l":166,"x":450,"y":280},
{"l":167,"x":416,"y":337},{"l":167,"x":473,"y":285},
{"l":168,"x":440,"y":333},{"l":168,"x":495,"y":288},{"l":168,"x":505,"y":285},
{"l":169,"x":477,"y":336},{"l":169,"x":527,"y":298},{"l":169,"x":537,"y":280},
{"l":170,"x":499,"y":333},{"l":170,"x":545,"y":290},{"l":170,"x":563,"y":278},
{"l":171,"x":535,"y":330},{"l":171,"x":560,"y":303},{"l":171,"x":568,"y":292},{"l":171,"x":585,"y":280},{"l":171,"x":593,"y":268},{"l":171,"x":603,"y":263},
{"l":172,"x":559,"y":315},{"l":172,"x":580,"y":293},{"l":172,"x":598,"y":277},{"l":172,"x":607,"y":263},{"l":172,"x":623,"y":245},
{"l":173,"x":570,"y":329},{"l":173,"x":585,"y":317},{"l":173,"x":600,"y":300},{"l":173,"x":627,"y":270},{"l":173,"x":645,"y":248},{"l":173,"x":651,"y":235},
{"l":174,"x":607,"y":320},{"l":174,"x":627,"y":302},{"l":174,"x":663,"y":265},{"l":174,"x":678,"y":248},{"l":174,"x":701,"y":222},{"l":174,"x":720,"y":196},{"l":174,"x":745,"y":165},{"l":174,"x":770,"y":133},{"l":174,"x":793,"y":103},
{"l":175,"x":640,"y":315},{"l":175,"x":657,"y":297},{"l":175,"x":680,"y":270},{"l":175,"x":700,"y":250},{"l":175,"x":726,"y":222},{"l":175,"x":745,"y":192},{"l":175,"x":768,"y":170},{"l":175,"x":793,"y":132},
{"l":176,"x":673,"y":313},{"l":176,"x":683,"y":300},{"l":176,"x":700,"y":282},{"l":176,"x":716,"y":258},{"l":176,"x":740,"y":232},{"l":176,"x":768,"y":197},{"l":176,"x":790,"y":170},{"l":176,"x":798,"y":158},
{"l":177,"x":715,"y":295},{"l":177,"x":725,"y":282},{"l":177,"x":740,"y":263},{"l":177,"x":755,"y":248},{"l":177,"x":770,"y":222},{"l":177,"x":792,"y":195},{"l":177,"x":805,"y":175},
{"l":178,"x":233,"y":288},{"l":178,"x":222,"y":344},
{"l":179,"x":255,"y":299},{"l":179,"x":244,"y":350},
{"l":180,"x":277,"y":302},{"l":180,"x":267,"y":364},
{"l":181,"x":299,"y":307},{"l":181,"x":289,"y":361},
{"l":182,"x":322,"y":313},{"l":182,"x":312,"y":366},
{"l":183,"x":345,"y":318},{"l":183,"x":335,"y":372},
{"l":184,"x":368,"y":325},{"l":184,"x":358,"y":380},
{"l":185,"x":393,"y":332},{"l":185,"x":382,"y":395},
{"l":186,"x":416,"y":337},{"l":186,"x":405,"y":393},
{"l":187,"x":440,"y":333},{"l":187,"x":428,"y":401},
{"l":188,"x":440,"y":333},{"l":188,"x":465,"y":382},{"l":188,"x":488,"y":402},
{"l":189,"x":477,"y":336},{"l":189,"x":465,"y":382},{"l":189,"x":453,"y":408},
{"l":190,"x":499,"y":333},{"l":190,"x":488,"y":402},
{"l":191,"x":499,"y":333},{"l":191,"x":523,"y":383},{"l":191,"x":548,"y":398},
{"l":192,"x":535,"y":330},{"l":192,"x":523,"y":383},{"l":192,"x":502,"y":422},
{"l":193,"x":559,"y":340},{"l":193,"x":548,"y":398},{"l":193,"x":527,"y":429},
{"l":194,"x":559,"y":340},{"l":194,"x":583,"y":390},
{"l":195,"x":593,"y":323},{"l":195,"x":583,"y":391},{"l":195,"x":552,"y":435},
{"l":196,"x":593,"y":323},{"l":196,"x":617,"y":386},{"l":196,"x":577,"y":442},
{"l":197,"x":628,"y":317},{"l":197,"x":617,"y":386},
{"l":198,"x":628,"y":317},{"l":198,"x":652,"y":378},{"l":198,"x":603,"y":449},
{"l":199,"x":663,"y":312},{"l":199,"x":652,"y":378},
{"l":200,"x":663,"y":312},{"l":200,"x":685,"y":370},{"l":200,"x":628,"y":457},
{"l":201,"x":696,"y":325},{"l":201,"x":685,"y":370},
{"l":202,"x":696,"y":325},{"l":202,"x":719,"y":363},{"l":202,"x":655,"y":464},
{"l":203,"x":705,"y":302},{"l":203,"x":728,"y":349},{"l":203,"x":719,"y":363},
{"l":204,"x":728,"y":349},{"l":204,"x":737,"y":322},{"l":204,"x":747,"y":278},
{"l":205,"x":760,"y":342},{"l":205,"x":737,"y":322},{"l":205,"x":715,"y":295},
{"l":206,"x":465,"y":382},{"l":206,"x":488,"y":402},{"l":206,"x":538,"y":415},{"l":206,"x":590,"y":430},{"l":206,"x":637,"y":443},{"l":206,"x":690,"y":457},
{"l":207,"x":548,"y":398},{"l":207,"x":597,"y":413},{"l":207,"x":648,"y":428},{"l":207,"x":698,"y":442},
{"l":208,"x":583,"y":390},{"l":208,"x":632,"y":405},{"l":208,"x":683,"y":418},{"l":208,"x":708,"y":426},
{"l":209,"x":617,"y":386},{"l":209,"x":667,"y":397},{"l":209,"x":717,"y":412},
{"l":210,"x":652,"y":378},{"l":210,"x":702,"y":390},{"l":210,"x":726,"y":397},
{"l":211,"x":685,"y":370},{"l":211,"x":734,"y":383},
{"l":212,"x":719,"y":363},{"l":212,"x":743,"y":368},
{"l":213,"x":728,"y":349},{"l":213,"x":751,"y":356},
{"l":214,"x":747,"y":278},{"l":214,"x":768,"y":330},
{"l":215,"x":755,"y":272},{"l":215,"x":776,"y":317},
{"l":216,"x":763,"y":265},{"l":216,"x":783,"y":302},
{"l":217,"x":771,"y":255},{"l":217,"x":791,"y":290},
{"l":218,"x":778,"y":240},{"l":218,"x":800,"y":277},
{"l":219,"x":785,"y":228},{"l":219,"x":806,"y":265},
{"l":220,"x":793,"y":213},{"l":220,"x":816,"y":250},
{"l":221,"x":801,"y":202},{"l":221,"x":826,"y":235},
{"l":222,"x":753,"y":103},{"l":222,"x":792,"y":112},{"l":222,"x":832,"y":120},{"l":222,"x":893,"y":132},
{"l":223,"x":760,"y":115},{"l":223,"x":798,"y":123},{"l":223,"x":838,"y":132},{"l":223,"x":883,"y":140},
{"l":224,"x":793,"y":133},{"l":224,"x":833,"y":142},{"l":224,"x":877,"y":150},
{"l":225,"x":795,"y":142},{"l":225,"x":807,"y":148},{"l":225,"x":850,"y":157},{"l":225,"x":872,"y":161},
{"l":226,"x":802,"y":158},{"l":226,"x":843,"y":167},{"l":226,"x":865,"y":171},
{"l":227,"x":815,"y":172},{"l":227,"x":858,"y":182},
{"l":228,"x":832,"y":187},{"l":228,"x":852,"y":191},
{"l":229,"x":825,"y":196},{"l":229,"x":847,"y":202},
{"l":230,"x":823,"y":223},{"l":230,"x":833,"y":222},
{"l":231,"x":771,"y":98},{"l":231,"x":760,"y":115},
{"l":232,"x":792,"y":103},{"l":232,"x":777,"y":127},{"l":232,"x":755,"y":158},
{"l":233,"x":812,"y":107},{"l":233,"x":793,"y":133},
{"l":234,"x":833,"y":112},{"l":234,"x":815,"y":133},{"l":234,"x":807,"y":148},{"l":234,"x":802,"y":158},{"l":234,"x":802,"y":168},
{"l":235,"x":853,"y":115},{"l":235,"x":837,"y":135},{"l":235,"x":823,"y":153},{"l":235,"x":815,"y":172},{"l":235,"x":815,"y":178},
{"l":236,"x":875,"y":118},{"l":236,"x":855,"y":145},{"l":236,"x":843,"y":167},{"l":236,"x":832,"y":187},{"l":236,"x":824,"y":196},
{"l":238,"x":824,"y":196},{"l":238,"x":822,"y":217},{"l":238,"x":826,"y":233},
{"l":239,"x":808,"y":185},{"l":239,"x":826,"y":233}
]},
"layer":[
{"data":{"name":"fills"},"mark":{"type":"line","fill":"#C0C0C0","stroke":"#C0C0C0","strokeWidth":1},"encoding":{"x":{"field":"x","type":"quantitative","scale":{"domain":[0,896],"nice":false,"zero":false},"axis":null},"y":{"field":"y","type":"quantitative","scale":{"domain":[664,0],"nice":false,"zero":false},"axis":null},"detail":{"field":"l","type":"nominal"},"order":{"value":null}}},
{"data":{"name":"lines"},"mark":{"type":"line","stroke":"#000000","strokeWidth":1.3,"strokeJoin":"miter"},"encoding":{"x":{"field":"x","type":"quantitative"},"y":{"field":"y","type":"quantitative"},"detail":{"field":"l","type":"nominal"},"order":{"value":null}}},
{"data":{"values":[{"t":"IGI","x":87,"y":618},{"t":"vlákno","x":87,"y":694}]},"mark":{"type":"text","font":"Liberation Sans","fontWeight":"bold","fontSize":64,"align":"left","baseline":"alphabetic","color":"#000000","clip":true},"encoding":{"x":{"field":"x","type":"quantitative"},"y":{"field":"y","type":"quantitative"},"text":{"field":"t"}}}
]}
